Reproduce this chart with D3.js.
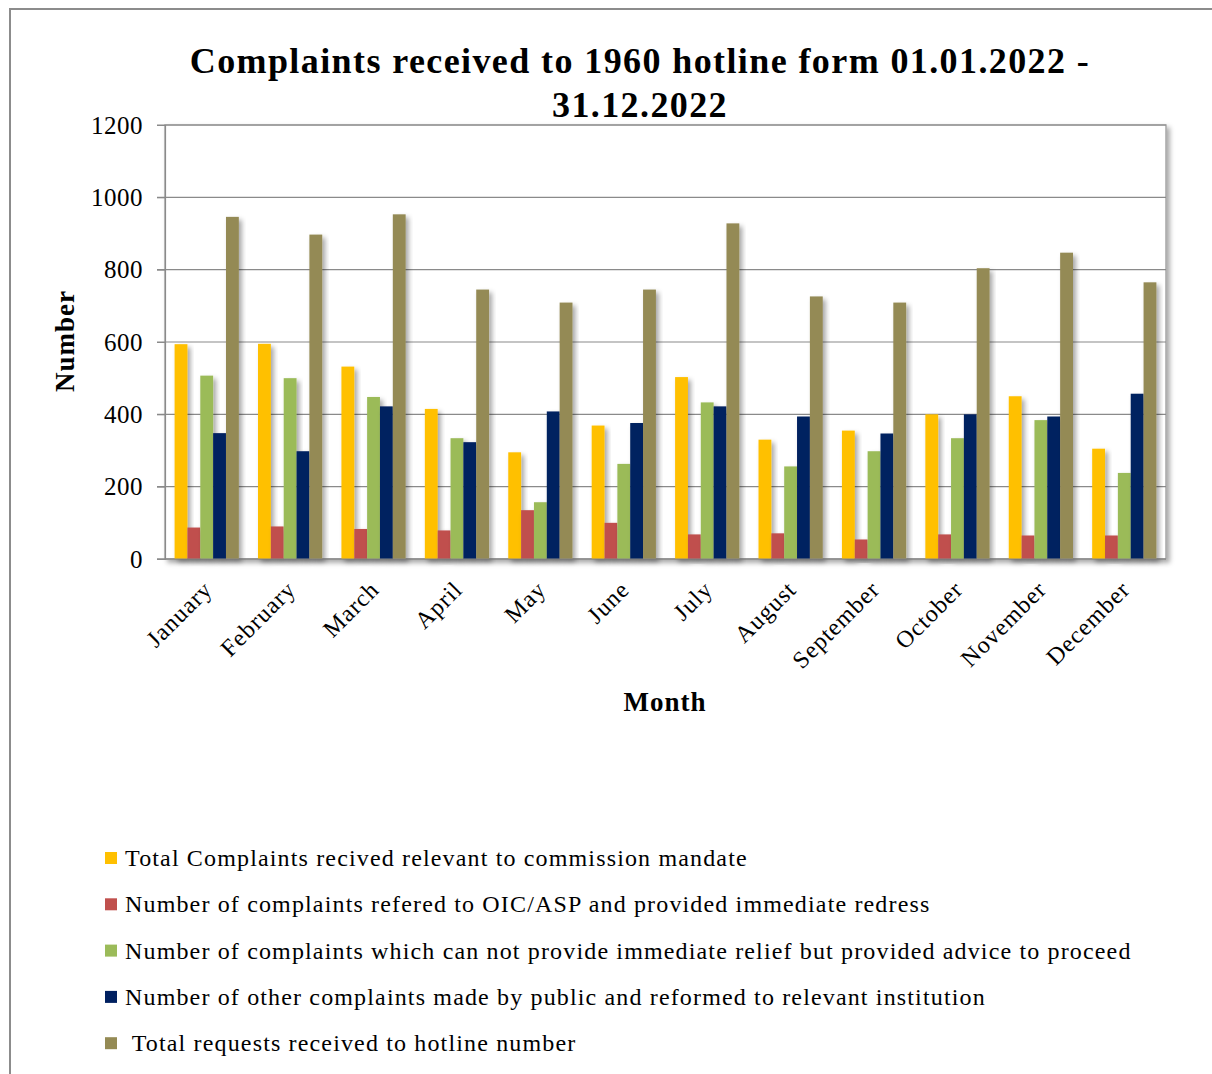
<!DOCTYPE html>
<html>
<head>
<meta charset="utf-8">
<script src="https://cdn.jsdelivr.net/npm/d3@7"></script>
<style>
  body { margin: 0; background: #fff; }
  text { font-family: "Liberation Serif", "DejaVu Serif", serif; fill: #000; }
</style>
</head>
<body>
<svg width="1212" height="1074"></svg>
<script>
const months = ["January", "February", "March", "April", "May", "June", "July",
  "August", "September", "October", "November", "December"];

const seriesNames = [
  "Total Complaints recived relevant to commission mandate",
  "Number of complaints refered to OIC/ASP and provided immediate redress",
  "Number of complaints which can not provide immediate relief but provided advice to proceed",
  "Number of other complaints made by public and reformed to relevant institution",
  " Total requests received to hotline number"
];

const totalRelevant = [594, 595, 532, 415, 295, 369, 503, 330, 355, 400, 450, 305];
const referedOIC    = [87, 90, 83, 79, 135, 100, 68, 71, 54, 68, 65, 65];
const adviceGiven   = [507, 500, 448, 334, 157, 263, 433, 256, 298, 334, 384, 238];
const otherRefered  = [348, 298, 422, 323, 408, 376, 422, 394, 347, 400, 394, 457];
const totalRequests = [946, 897, 953, 745, 709, 745, 928, 726, 709, 804, 847, 765];

const yTicks = [0, 200, 400, 600, 800, 1000, 1200];
const colors = ["#FFC000", "#C0504D", "#9BBB59", "#002060", "#948A54"];

const seriesValues = [totalRelevant, referedOIC, adviceGiven, otherRefered, totalRequests];

const svg = d3.select("svg");
const margin = { left: 165, right: 1166, top: 125, bottom: 559 };

// shadow used by the plot frame and the bars
const defs = svg.append("defs");
defs.append("filter").attr("id", "shadow")
  .attr("x", "-50%").attr("y", "-10%").attr("width", "200%").attr("height", "130%")
  .append("feDropShadow")
  .attr("dx", 3).attr("dy", 3).attr("stdDeviation", 2.5)
  .attr("flood-color", "#000").attr("flood-opacity", 0.35);

// outer chart border
svg.append("path")
  .attr("d", "M10,1074 L10,9 L1212,9")
  .attr("fill", "none").attr("stroke", "#8c8c8c").attr("stroke-width", 2);

const x = d3.scaleBand().domain(months).range([margin.left, margin.right]).paddingInner(0.23).paddingOuter(0.115);
const xs = d3.scaleBand().domain(d3.range(5)).range([0, x.bandwidth()]);
const y = d3.scaleLinear().domain([0, 1200]).range([margin.bottom, margin.top]);

// plot frame with shadow
svg.append("rect")
  .attr("x", margin.left).attr("y", margin.top)
  .attr("width", margin.right - margin.left).attr("height", margin.bottom - margin.top)
  .attr("fill", "#fff").attr("stroke", "#a6a6a6").attr("stroke-width", 1.5)
  .attr("filter", "url(#shadow)");

// gridlines
svg.append("g")
  .selectAll("line")
  .data(yTicks)
  .join("line")
  .attr("x1", margin.left - 8).attr("x2", margin.right)
  .attr("y1", d => y(d)).attr("y2", d => y(d))
  .attr("stroke", "#8a8a8a").attr("stroke-width", 1.2);

// y axis
const yAxis = svg.append("g")
  .attr("transform", `translate(${margin.left},0)`)
  .call(d3.axisLeft(y).tickValues(yTicks).tickFormat(d3.format("d")).tickSize(8).tickPadding(14));
yAxis.select(".domain").attr("stroke", "#8a8a8a").attr("stroke-width", 1.2);
yAxis.selectAll(".tick line").attr("stroke", "#8a8a8a");
yAxis.selectAll("text")
  .style("font-family", "'Liberation Serif', serif")
  .attr("font-size", 25).attr("letter-spacing", 0.5).attr("fill", "#000");

// bars
const group = svg.append("g").selectAll("g")
  .data(months)
  .join("g")
  .attr("transform", d => `translate(${x(d)},0)`);

group.selectAll("rect")
  .data((m, i) => seriesValues.map((vals, s) => ({ s, v: vals[i] })))
  .join("rect")
  .attr("x", d => xs(d.s))
  .attr("width", xs.bandwidth())
  .attr("y", d => y(d.v))
  .attr("height", d => y(0) - y(d.v))
  .attr("fill", d => colors[d.s])
  .attr("filter", "url(#shadow)");

// x axis line over bars
svg.append("line")
  .attr("x1", margin.left - 8).attr("x2", margin.right)
  .attr("y1", y(0)).attr("y2", y(0))
  .attr("stroke", "#8a8a8a").attr("stroke-width", 1.2);

// month labels
svg.append("g").selectAll("text")
  .data(months)
  .join("text")
  .attr("transform", d => `translate(${x(d) + x.bandwidth() / 2 + 7},${y(0) + 32}) rotate(-45)`)
  .attr("text-anchor", "end")
  .attr("font-size", 24)
  .attr("letter-spacing", 1)
  .text(d => d);

// title
const title = svg.append("text")
  .attr("x", 640).attr("text-anchor", "middle")
  .attr("font-size", 36).attr("font-weight", "bold").attr("letter-spacing", 1.4);
title.append("tspan").attr("x", 640).attr("y", 73).text("Complaints received to 1960 hotline form 01.01.2022 -");
title.append("tspan").attr("x", 640).attr("y", 117).text("31.12.2022");

// axis titles
svg.append("text")
  .attr("transform", "translate(74,341) rotate(-90)")
  .attr("text-anchor", "middle")
  .attr("font-size", 27).attr("font-weight", "bold").attr("letter-spacing", 1)
  .text("Number");

svg.append("text")
  .attr("x", 665).attr("y", 711)
  .attr("text-anchor", "middle")
  .attr("font-size", 27).attr("font-weight", "bold").attr("letter-spacing", 1)
  .text("Month");

// legend
const legend = svg.append("g").selectAll("g")
  .data(seriesNames)
  .join("g")
  .attr("transform", (d, i) => `translate(105,${858 + i * 46.3})`);

legend.append("rect")
  .attr("x", 0).attr("y", -6).attr("width", 12).attr("height", 12)
  .attr("fill", (d, i) => colors[i]);

legend.append("text")
  .attr("x", 20).attr("y", 8)
  .attr("font-size", 24)
  .attr("letter-spacing", 1.15)
  .attr("xml:space", "preserve")
  .style("white-space", "pre")
  .text(d => d);
</script>
</body>
</html>
